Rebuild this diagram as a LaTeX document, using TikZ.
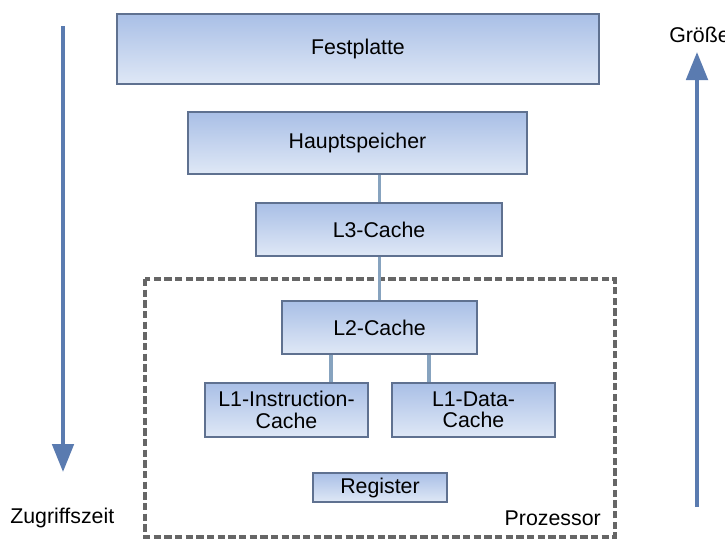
\documentclass[tikz,border=0pt]{standalone}
\usepackage{fontspec}
\setmainfont{Liberation Sans}
\usetikzlibrary{arrows.meta}
\definecolor{boxtop}{HTML}{A9BFE6}
\definecolor{boxbot}{HTML}{DFE8F6}
\definecolor{boxline}{HTML}{5F7190}
\definecolor{conn}{HTML}{87A3BF}
\definecolor{arr}{HTML}{5A7BB0}
\definecolor{dashgray}{HTML}{666666}
\tikzset{
  membox/.style={draw=boxline, line width=1pt, top color=boxtop, bottom color=boxbot, align=center, inner sep=0pt, font=\fontsize{16}{16}\selectfont},
  conline/.style={draw=conn, line width=2.4pt},
  bigarrow/.style={draw=arr, line width=3pt, -{Triangle[length=21pt,width=16pt]}},
  lbl/.style={font=\fontsize{16}{16}\selectfont, inner sep=0pt}
}
\begin{document}
\begin{tikzpicture}[x=0.75pt,y=-0.75pt]
\useasboundingbox (0,0) rectangle (725,539);
% dashed processor box
\draw[dashgray, line width=2.4pt, dash pattern=on 5.5pt off 2.5pt] (145,279) rectangle (615,537);
% boxes
\node[membox, minimum width=482*0.75pt, minimum height=70*0.75pt] (fp) at (358,49) {Festplatte};
\node[membox, minimum width=339*0.75pt, minimum height=62*0.75pt] (hs) at (357.5,143) {Hauptspeicher};
\node[membox, minimum width=246*0.75pt, minimum height=53*0.75pt] (l3) at (379,229.5) {L3-Cache};
\node[membox, minimum width=195*0.75pt, minimum height=53*0.75pt] (l2) at (379.5,327.5) {L2-Cache};
\node[membox, minimum width=163*0.75pt, minimum height=54*0.75pt] (l1i) at (286.5,410) {L1-Instruction-\\Cache};
\node[membox, minimum width=163*0.75pt, minimum height=54*0.75pt] (l1d) at (473.5,410) {L1-Data-\\Cache};
\node[membox, minimum width=134*0.75pt, minimum height=29*0.75pt] (reg) at (380,487.5) {Register};
% connectors
\draw[conline] (hs.south -| 379.5,0) -- (l3.north -| 379.5,0);
\draw[conline] (l3.south -| 379.5,0) -- (l2.north -| 379.5,0);
\draw[conline] (l2.south -| 331,0) -- (l1i.north -| 331,0);
\draw[conline] (l2.south -| 429,0) -- (l1d.north -| 429,0);
% arrows
\coordinate (za) at (63,26);
\coordinate (zb) at (63,472);
\coordinate (ga) at (697,507);
\coordinate (gb) at (697,52);
\draw[bigarrow] (za) -- (zb);
\draw[bigarrow] (ga) -- (gb);
% labels
\node[lbl, anchor=west] (zt) at (10,518) {Zugriffszeit};
\node[lbl, anchor=east] (pt) at (601,518) {Prozessor};
\node[lbl, anchor=west] (gt) at (669,35) {Größe};
\end{tikzpicture}
\end{document}
